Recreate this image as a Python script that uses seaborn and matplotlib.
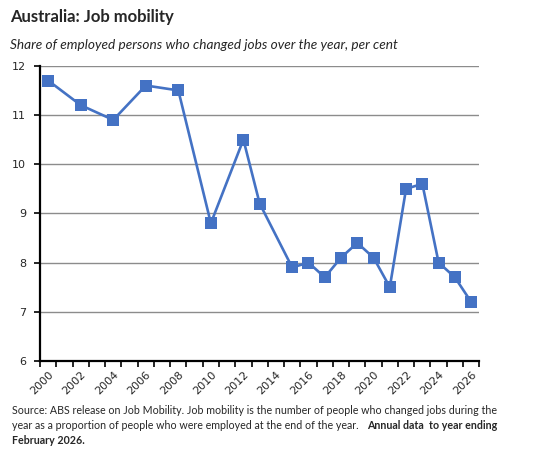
import numpy as np
import pandas as pd
import matplotlib
matplotlib.use("Agg")
import matplotlib.pyplot as plt
import seaborn as sns
from matplotlib.ticker import FixedLocator, NullFormatter

# data
years = [2000, 2002, 2004, 2006, 2008, 2010, 2012, 2013, 2015, 2016,
         2017, 2018, 2019, 2020, 2021, 2022, 2023, 2024, 2025, 2026]
mobility = [11.7, 11.2, 10.9, 11.6, 11.5, 8.8, 10.5, 9.2, 7.9, 8.0,
            7.7, 8.1, 8.4, 8.1, 7.5, 9.5, 9.6, 8.0, 7.7, 7.2]
year_labels = list(range(2000, 2027, 2))
y_ticks = [6, 7, 8, 9, 10, 11, 12]

df = pd.DataFrame({"year": years, "mobility": mobility})

sns.set_style("white")
plt.rcParams["font.family"] = ["DejaVu Sans"]

blue = "#4472C4"
fig = plt.figure(figsize=(5.49, 4.54), dpi=100)
ax = fig.add_axes([0.073, 0.205, 0.80, 0.65])

sns.lineplot(data=df, x="year", y="mobility", ax=ax, color=blue, lw=1.9,
             marker="s", markersize=9, markeredgewidth=0, zorder=3)

ax.set_xlim(1999.5, 2026.5)
ax.set_ylim(6, 12)
ax.set_yticks(y_ticks)
ax.set_yticklabels([str(v) for v in y_ticks], fontsize=8)
ax.yaxis.grid(True, color="#8c8c8c", lw=1)
ax.set_axisbelow(True)

# year boundaries get the tick marks, labels sit on even years
ax.xaxis.set_major_locator(FixedLocator(np.arange(1999.5, 2027, 1)))
ax.xaxis.set_major_formatter(NullFormatter())
ax.xaxis.set_minor_locator(FixedLocator(year_labels))
ax.set_xticklabels([str(y) for y in year_labels], minor=True, fontsize=8,
                   rotation=45, ha="right", rotation_mode="anchor")
ax.tick_params(axis="x", which="major", length=4, width=1.2, color="black", direction="out", bottom=True)
ax.tick_params(axis="x", which="minor", length=0, pad=6)
ax.tick_params(axis="y", length=4, width=1.2, color="black", direction="out", left=True, pad=6)

for s in ["top", "right"]:
    ax.spines[s].set_visible(False)
for s in ["left", "bottom"]:
    ax.spines[s].set_color("black")
    ax.spines[s].set_linewidth(1.6)
ax.set_xlabel("")
ax.set_ylabel("")

fig.text(0.018, 0.962, "Australia: Job mobility", fontsize=12, fontweight="bold",
         family="Lato", va="center")
fig.text(0.018, 0.901, "Share of employed persons who changed jobs over the year, per cent",
         fontsize=9.8, style="italic", family="Lato", va="center")

fs = 7.7
fig.text(0.022, 0.095, "Source: ABS release on Job Mobility. Job mobility is the number of people who changed jobs during the",
         fontsize=fs, family="Lato", va="center")
t2 = fig.text(0.022, 0.062, "year as a proportion of people who were employed at the end of the year.   ",
              fontsize=fs, family="Lato", va="center")
fig.canvas.draw()
bb = t2.get_window_extent(renderer=fig.canvas.get_renderer()).transformed(fig.transFigure.inverted())
fig.text(bb.x1, 0.062, "Annual data  to year ending", fontsize=fs, family="Lato",
         fontweight="bold", va="center")
fig.text(0.022, 0.029, "February 2026.", fontsize=fs, family="Lato", fontweight="bold", va="center")

fig.savefig("out.png", dpi=100)
